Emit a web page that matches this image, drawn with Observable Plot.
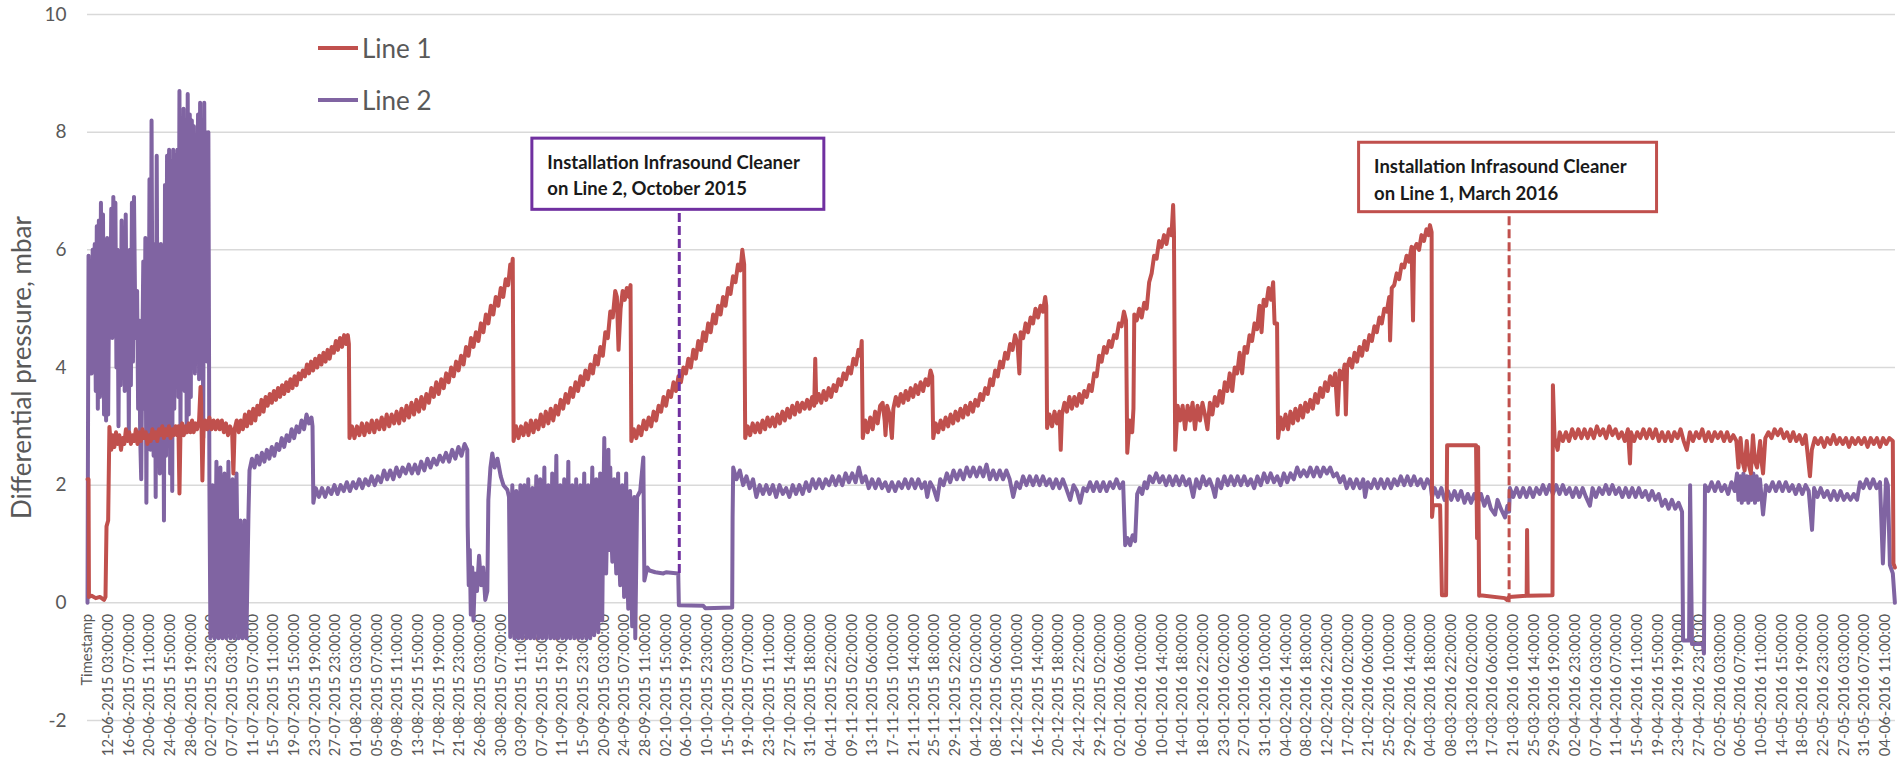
<!DOCTYPE html>
<html><head><meta charset="utf-8">
<script src="https://cdn.jsdelivr.net/npm/d3@7"></script>
<script src="https://cdn.jsdelivr.net/npm/@observablehq/plot@0.6"></script>
<style>
body{margin:0;background:#fff;font-family:Lato,"Open Sans",sans-serif;}
#wrap{position:relative;width:1902px;height:757px;overflow:hidden;background:#fff;}
.lg{position:absolute;left:318px;height:30px;display:flex;align-items:center;font-size:26px;color:#595959;font-family:Lato,sans-serif;}
.lg i{display:inline-block;width:40px;height:4px;margin-right:4px;}
</style>
</head><body><div id="wrap"></div>
<script>
// category axis labels, one every 100 hourly records
const labelEvery = 100;
const tickLabels = ["Timestamp","12-06-2015 03:00:00","16-06-2015 07:00:00","20-06-2015 11:00:00","24-06-2015 15:00:00","28-06-2015 19:00:00","02-07-2015 23:00:00","07-07-2015 03:00:00","11-07-2015 07:00:00","15-07-2015 11:00:00","19-07-2015 15:00:00","23-07-2015 19:00:00","27-07-2015 23:00:00","01-08-2015 03:00:00","05-08-2015 07:00:00","09-08-2015 11:00:00","13-08-2015 15:00:00","17-08-2015 19:00:00","21-08-2015 23:00:00","26-08-2015 03:00:00","30-08-2015 07:00:00","03-09-2015 11:00:00","07-09-2015 15:00:00","11-09-2015 19:00:00","15-09-2015 23:00:00","20-09-2015 03:00:00","24-09-2015 07:00:00","28-09-2015 11:00:00","02-10-2015 15:00:00","06-10-2015 19:00:00","10-10-2015 23:00:00","15-10-2015 03:00:00","19-10-2015 07:00:00","23-10-2015 11:00:00","27-10-2015 14:00:00","31-10-2015 18:00:00","04-11-2015 22:00:00","09-11-2015 02:00:00","13-11-2015 06:00:00","17-11-2015 10:00:00","21-11-2015 14:00:00","25-11-2015 18:00:00","29-11-2015 22:00:00","04-12-2015 02:00:00","08-12-2015 06:00:00","12-12-2015 10:00:00","16-12-2015 14:00:00","20-12-2015 18:00:00","24-12-2015 22:00:00","29-12-2015 02:00:00","02-01-2016 06:00:00","06-01-2016 10:00:00","10-01-2016 14:00:00","14-01-2016 18:00:00","18-01-2016 22:00:00","23-01-2016 02:00:00","27-01-2016 06:00:00","31-01-2016 10:00:00","04-02-2016 14:00:00","08-02-2016 18:00:00","12-02-2016 22:00:00","17-02-2016 02:00:00","21-02-2016 06:00:00","25-02-2016 10:00:00","29-02-2016 14:00:00","04-03-2016 18:00:00","08-03-2016 22:00:00","13-03-2016 02:00:00","17-03-2016 06:00:00","21-03-2016 10:00:00","25-03-2016 14:00:00","29-03-2016 19:00:00","02-04-2016 23:00:00","07-04-2016 03:00:00","11-04-2016 07:00:00","15-04-2016 11:00:00","19-04-2016 15:00:00","23-04-2016 19:00:00","27-04-2016 23:00:00","02-05-2016 03:00:00","06-05-2016 07:00:00","10-05-2016 11:00:00","14-05-2016 15:00:00","18-05-2016 19:00:00","22-05-2016 23:00:00","27-05-2016 03:00:00","31-05-2016 07:00:00","04-06-2016 11:00:00"];
const yTicks = [-2,0,2,4,6,8,10];
const seriesNames = ["Line 1","Line 2"];
const seriesColors = ["#C0504D","#8064A2"];

// Line 1: [record index (hour), differential pressure mbar]
const line1 = [[0,2.1],[5,2.1],[7,0.1],[20,0.12],[40,0.08],[60,0.1],[80,0.05],[87,0.1],[92,1.3],[100,1.4],
[106,2.99],[115,2.6],[122,2.85],[130,2.65],[138,2.9],[146,2.7],[154,2.85],[162,2.6],[170,2.8],[178,2.7],[186,2.95],[194,2.75],[202,2.9],[210,2.7],[218,2.85],[226,2.75],[234,2.95],[242,2.7],[250,2.9],[258,2.75],[266,2.95],[274,2.8],[282,2.9],[290,2.7],[298,2.85],[306,2.75],[314,2.95],[322,2.8],[330,2.9],[338,2.75],[346,2.95],[354,2.85],[362,3.0],[370,2.8],[378,2.95],[386,2.85],[394,3.0],[402,2.8],[410,2.95],[418,2.85],[426,3.0],[434,2.85],[440,3.0],[445,1.86],[450,2.9],[458,3.05],[466,2.85],[474,3.0],[482,2.9],[490,3.05],[498,2.9],[506,3.1],[514,2.9],[522,3.05],[530,2.95],[540,3.1],[547,3.67],[550,3.4],[556,2.08],[561,2.9],[570,3.1],[580,2.95],[590,3.15],[600,2.95],[610,3.1],[620,2.95],[630,3.1],[640,2.95],[650,3.1],[660,2.9],[670,3.05],[680,2.85],[690,3.0],[700,2.9],[706,2.2],[712,2.95],[722,3.1],[732,2.9],[742,3.1],[752,2.95],[762,3.2],[772,3.0],[782,3.25],[792,3.05],[802,3.3],[812,3.1],[822,3.35],[832,3.2],[842,3.45],[852,3.25],[862,3.5],[872,3.35],[882,3.55],[892,3.4],[902,3.6],[912,3.45],[922,3.65],[932,3.5],[942,3.7],[952,3.55],[962,3.75],[972,3.6],[982,3.8],[992,3.65],[1002,3.85],[1012,3.7],[1022,3.9],[1032,3.8],[1042,3.95],[1052,3.85],[1062,4.05],[1072,3.9],[1082,4.1],[1092,3.95],[1102,4.15],[1112,4.0],[1122,4.2],[1132,4.05],[1142,4.25],[1152,4.1],[1162,4.3],[1172,4.15],[1182,4.35],[1192,4.25],[1202,4.45],[1212,4.3],[1222,4.5],[1232,4.35],[1242,4.55],[1252,4.4],[1260,4.55],[1265,4.4],
[1268,2.8],[1280,3.0],[1292,2.8],[1304,3.0],[1316,2.85],[1328,3.05],[1340,2.85],[1352,3.05],[1364,2.9],[1376,3.1],[1388,2.9],[1400,3.1],[1412,2.95],[1424,3.15],[1436,2.95],[1448,3.2],[1460,3.0],[1472,3.2],[1484,3.05],[1496,3.25],[1508,3.05],[1520,3.3],[1532,3.1],[1544,3.35],[1556,3.15],[1568,3.4],[1580,3.2],[1592,3.45],[1604,3.25],[1616,3.5],[1628,3.3],[1640,3.55],[1652,3.4],[1664,3.65],[1676,3.5],[1688,3.75],[1700,3.55],[1712,3.8],[1724,3.65],[1736,3.9],[1748,3.75],[1760,4.0],[1772,3.85],[1784,4.1],[1796,3.95],[1808,4.2],[1820,4.05],[1832,4.35],[1844,4.2],[1856,4.5],[1868,4.35],[1880,4.6],[1892,4.45],[1904,4.75],[1916,4.6],[1928,4.9],[1940,4.75],[1952,5.05],[1964,4.9],[1976,5.2],[1988,5.05],[2000,5.35],[2012,5.2],[2024,5.5],[2036,5.4],[2046,5.75],[2052,5.6],[2058,5.85],
[2062,2.75],[2074,3.0],[2086,2.8],[2098,3.0],[2110,2.85],[2122,3.05],[2134,2.85],[2146,3.1],[2158,2.9],[2170,3.1],[2182,2.95],[2194,3.2],[2206,3.0],[2218,3.25],[2230,3.05],[2242,3.3],[2254,3.1],[2266,3.35],[2278,3.2],[2290,3.45],[2302,3.3],[2314,3.55],[2326,3.4],[2338,3.65],[2350,3.5],[2362,3.75],[2374,3.6],[2386,3.85],[2398,3.7],[2410,3.95],[2422,3.8],[2434,4.05],[2446,3.9],[2458,4.2],[2470,4.05],[2482,4.35],[2494,4.2],[2506,4.6],[2518,4.5],[2530,4.95],[2542,4.85],[2554,5.3],[2562,5.2],[2570,4.3],[2580,5.0],[2590,5.3],[2600,5.15],[2610,5.35],[2620,5.2],[2628,5.4],
[2632,2.75],[2644,2.95],[2656,2.8],[2668,3.0],[2680,2.85],[2692,3.1],[2704,2.95],[2716,3.15],[2728,3.0],[2740,3.25],[2752,3.1],[2764,3.35],[2776,3.25],[2788,3.5],[2800,3.35],[2812,3.6],[2824,3.5],[2836,3.75],[2848,3.6],[2860,3.85],[2872,3.75],[2884,4.0],[2896,3.9],[2908,4.15],[2920,4.0],[2932,4.3],[2944,4.15],[2956,4.45],[2968,4.3],[2980,4.6],[2992,4.45],[3004,4.75],[3016,4.6],[3028,4.9],[3040,4.75],[3052,5.05],[3064,4.9],[3076,5.2],[3088,5.05],[3100,5.35],[3112,5.25],[3124,5.55],[3136,5.45],[3148,5.75],[3160,5.65],[3169,6.0],[3178,5.75],
[3183,2.8],[3195,3.0],[3207,2.85],[3219,3.05],[3231,2.9],[3243,3.05],[3255,2.9],[3267,3.1],[3279,2.95],[3291,3.15],[3303,3.0],[3315,3.15],[3327,3.0],[3339,3.2],[3351,3.05],[3363,3.25],[3375,3.1],[3387,3.3],[3399,3.15],[3411,3.35],[3423,3.2],[3435,3.4],[3447,3.25],[3459,3.4],[3471,3.3],[3483,3.45],[3495,3.3],[3507,3.5],[3517,3.35],[3522,4.15],[3527,3.4],[3539,3.55],[3551,3.4],[3563,3.6],[3575,3.45],[3587,3.65],[3599,3.5],[3611,3.7],[3623,3.6],[3635,3.8],[3647,3.7],[3659,3.9],[3671,3.8],[3683,4.0],[3695,3.9],[3707,4.15],[3719,4.05],[3731,4.3],[3741,4.2],[3747,4.45],
[3752,2.8],[3764,3.1],[3776,2.9],[3788,3.15],[3800,2.95],[3812,3.25],[3824,3.05],[3836,3.35],[3848,3.4],[3858,3.1],[3862,2.85],[3870,3.35],[3882,3.2],[3893,2.8],[3900,3.3],[3912,3.5],[3924,3.35],[3936,3.55],[3948,3.4],[3960,3.6],[3972,3.45],[3984,3.65],[3996,3.5],[4008,3.7],[4020,3.55],[4032,3.75],[4044,3.6],[4056,3.8],[4068,3.7],[4080,3.95],[4088,3.85],
[4093,2.8],[4105,3.05],[4117,2.9],[4129,3.1],[4141,2.95],[4153,3.15],[4165,3.0],[4177,3.2],[4189,3.05],[4201,3.25],[4213,3.1],[4225,3.3],[4237,3.15],[4249,3.35],[4261,3.2],[4273,3.4],[4285,3.25],[4297,3.45],[4309,3.35],[4321,3.55],[4333,3.45],[4345,3.65],[4357,3.55],[4369,3.8],[4381,3.7],[4393,3.95],[4405,3.85],[4417,4.1],[4429,4.0],[4441,4.25],[4453,4.15],[4465,4.4],[4477,4.3],[4489,4.55],[4501,4.4],[4510,3.9],[4516,4.6],[4528,4.5],[4540,4.75],[4552,4.6],[4564,4.85],[4576,4.75],[4588,5.0],[4600,4.85],[4612,5.05],[4624,4.95],[4635,5.2],[4640,5.05],
[4644,2.97],[4656,3.2],[4668,3.0],[4680,3.25],[4692,3.05],[4704,3.25],[4710,2.6],[4716,3.2],[4728,3.4],[4740,3.25],[4752,3.5],[4764,3.3],[4776,3.5],[4788,3.35],[4800,3.55],[4812,3.4],[4824,3.6],[4836,3.5],[4848,3.7],[4860,3.6],[4872,3.9],[4884,3.85],[4896,4.2],[4908,4.1],[4920,4.35],[4932,4.25],[4944,4.45],[4956,4.35],[4968,4.55],[4980,4.5],[4992,4.75],[5004,4.7],[5016,4.95],[5026,4.8],
[5032,2.55],[5044,3.1],[5056,2.9],[5062,3.3],[5066,4.9],[5078,4.8],[5090,5.0],[5102,4.85],[5114,5.1],[5126,5.0],[5138,5.45],[5150,5.6],[5162,5.9],[5174,5.85],[5186,6.15],[5198,6.05],[5210,6.25],[5222,6.1],[5234,6.35],[5246,6.25],[5254,6.76],[5258,6.3],
[5264,2.6],[5276,3.35],[5288,3.1],[5300,3.35],[5312,2.95],[5324,3.35],[5336,3.1],[5348,3.4],[5360,2.95],[5372,3.35],[5384,3.1],[5396,3.4],[5408,3.2],[5420,2.95],[5432,3.4],[5444,3.2],[5456,3.5],[5468,3.35],[5480,3.6],[5492,3.4],[5504,3.75],[5516,3.6],[5528,3.9],[5540,3.6],[5552,4.0],[5564,3.9],[5576,4.25],[5588,3.9],[5600,4.35],[5612,4.25],[5624,4.55],[5636,4.45],[5648,4.75],[5660,4.65],[5672,5.05],[5682,4.6],[5692,5.15],[5704,5.05],[5716,5.35],[5728,5.15],[5738,5.45],[5745,4.75],[5757,4.75],
[5762,2.8],[5774,3.15],[5786,2.95],[5798,3.2],[5810,2.95],[5822,3.25],[5834,3.05],[5846,3.3],[5858,3.1],[5870,3.35],[5882,3.15],[5894,3.4],[5906,3.25],[5918,3.45],[5930,3.3],[5942,3.55],[5954,3.4],[5966,3.65],[5978,3.5],[5990,3.75],[6002,3.6],[6014,3.85],[6026,3.7],[6038,3.9],[6050,3.2],[6060,3.95],[6072,3.8],[6084,4.05],[6090,3.2],[6096,4.0],[6108,4.15],[6120,4.0],[6132,4.25],[6144,4.1],[6156,4.35],[6168,4.2],[6180,4.45],[6192,4.3],[6204,4.55],[6216,4.45],[6228,4.7],[6240,4.6],[6252,4.85],[6264,4.75],[6276,5.0],[6288,4.95],[6300,5.2],[6304,4.46],[6312,5.35],[6324,5.4],[6336,5.6],[6348,5.5],[6360,5.75],[6372,5.7],[6384,5.9],[6396,5.8],[6408,6.05],[6415,4.8],[6420,6.0],[6432,6.1],[6444,6.0],[6456,6.25],[6468,6.15],[6480,6.35],[6490,6.25],[6497,6.42],[6505,6.3],
[6507,1.46],[6512,1.66],[6546,1.66],[6555,0.13],[6575,0.13],[6580,2.68],[6720,2.68],[6725,1.1],[6730,2.65],[6735,0.12],[6740,0.13],[6860,0.08],[6870,0.05],[6880,0.1],[6965,0.12],[6967,1.24],[6970,0.12],[7090,0.13],[7092,3.7],
[7100,2.8],[7115,2.6],[7125,2.9],[7140,2.75],[7155,2.9],[7170,2.75],[7185,2.95],[7200,2.8],[7215,2.95],[7230,2.8],[7245,2.95],[7260,2.8],[7275,2.95],[7290,2.8],[7305,3.0],[7320,2.85],[7335,2.95],[7350,2.8],[7365,3.0],[7380,2.85],[7395,2.95],[7410,2.8],[7425,2.9],[7440,2.75],[7455,2.95],[7465,2.37],[7470,2.9],[7485,2.75],[7500,2.9],[7515,2.8],[7530,2.95],[7545,2.8],[7560,2.95],[7575,2.8],[7590,2.95],[7605,2.75],[7620,2.9],[7635,2.75],[7650,2.9],[7665,2.75],[7680,2.9],[7695,2.8],[7710,2.95],[7725,2.75],[7740,2.6],[7755,2.9],[7770,2.75],[7785,2.9],[7800,2.8],[7815,2.95],[7830,2.75],[7845,2.9],[7860,2.75],[7875,2.9],[7890,2.8],[7905,2.9],[7920,2.75],[7935,2.9],[7950,2.75],[7965,2.85],[7980,2.75],[7990,2.3],[8000,2.8],[8010,2.4],[8020,2.25],[8030,2.75],[8040,2.35],[8050,2.2],[8060,2.85],[8070,2.4],[8080,2.3],[8095,2.75],[8102,2.4],[8109,2.2],[8120,2.8],[8135,2.9],[8150,2.8],[8165,2.95],[8180,2.85],[8195,2.95],[8210,2.8],[8225,2.9],[8240,2.75],[8255,2.9],[8270,2.75],[8285,2.85],[8300,2.7],[8315,2.85],[8336,2.15],[8345,2.6],[8360,2.8],[8375,2.7],[8390,2.8],[8405,2.65],[8420,2.8],[8435,2.7],[8450,2.85],[8465,2.7],[8480,2.8],[8495,2.7],[8510,2.8],[8525,2.65],[8540,2.8],[8555,2.7],[8570,2.8],[8585,2.7],[8600,2.8],[8615,2.65],[8630,2.8],[8645,2.7],[8660,2.8],[8675,2.65],[8690,2.8],[8705,2.7],[8720,2.8],[8737,2.75],[8740,0.67],[8747,0.6]];

// Line 2: [record index (hour), differential pressure mbar]
const line2 = [[0,0.0],[5,5.9],[10,4.0],[15,5.8],[20,3.9],[25,6.0],[30,4.3],[35,6.1],[40,3.6],[45,6.4],[50,3.3],[55,6.5],[60,3.5],[65,6.8],[70,4.2],[75,6.6],[80,3.2],[85,5.9],[90,3.1],[95,6.2],[100,3.2],[105,5.6],[110,4.6],[115,6.7],[120,4.5],[125,6.9],[130,4.6],[135,6.8],[140,4.0],[145,6.0],[150,3.0],[155,5.7],[160,3.7],[165,6.5],[170,4.3],[175,6.2],[180,3.6],[185,6.6],[190,4.2],[195,5.9],[200,2.9],[205,6.0],[210,3.7],[215,6.8],[220,4.1],[225,6.9],[230,5.2],[235,4.5],[240,5.3],[245,3.3],[250,4.8],[255,2.8],[260,2.1],[265,4.2],[270,5.8],[275,3.3],[280,6.2],[285,1.7],[290,5.4],[295,3.4],[300,7.2],[305,2.6],[310,8.2],[315,4.0],[320,2.5],[325,6.1],[330,1.8],[335,7.6],[340,3.1],[345,5.0],[350,2.2],[355,6.1],[360,2.6],[365,5.5],[370,1.4],[375,7.1],[380,2.5],[385,7.6],[390,4.5],[395,7.7],[400,2.2],[405,7.5],[410,1.9],[415,7.7],[420,3.3],[425,7.6],[430,4.2],[435,7.7],[440,3.5],[445,8.7],[450,2.9],[455,7.6],[460,4.1],[465,8.4],[470,3.6],[475,8.2],[480,2.9],[485,8.65],[490,3.2],[495,8.3],[500,3.5],[505,8.2],[510,4.5],[515,8.1],[520,3.9],[525,7.9],[530,4.3],[535,8.3],[540,3.8],[545,8.5],[550,4.2],[555,8.0],[560,2.8],[565,8.5],[570,4.3],[575,8.0],[580,4.1],[585,8.0],[590,2.0],[595,-0.6],
[605,2.0],[615,-0.6],[624,2.4],[634,-0.6],[643,2.3],[653,-0.6],[663,2.2],[672,-0.6],[682,2.4],[692,-0.6],[702,2.1],[711,-0.6],[721,2.2],[731,-0.6],[740,1.4],[750,-0.6],[760,1.4],[769,-0.6],[779,1.5],
[784,2.25],[796,2.45],[808,2.3],[820,2.5],[832,2.35],[844,2.55],[856,2.4],[868,2.6],[880,2.45],[892,2.65],[904,2.5],[916,2.7],[928,2.6],[940,2.8],[952,2.65],[964,2.85],[976,2.75],[988,2.95],[1000,2.8],[1012,3.0],[1024,2.9],[1036,3.1],[1048,2.95],[1060,3.2],[1072,3.05],[1084,3.15],[1089,3.0],
[1093,1.7],[1105,1.95],[1120,1.8],[1135,1.95],[1150,1.8],[1165,1.95],[1180,1.85],[1195,2.0],[1210,1.85],[1225,2.0],[1240,1.9],[1255,2.05],[1270,1.9],[1285,2.05],[1300,1.95],[1315,2.1],[1330,1.95],[1345,2.1],[1360,2.0],[1375,2.15],[1390,2.0],[1405,2.15],[1420,2.05],[1435,2.25],[1450,2.1],[1465,2.25],[1480,2.1],[1495,2.3],[1510,2.15],[1525,2.3],[1540,2.2],[1555,2.35],[1570,2.2],[1585,2.35],[1600,2.2],[1615,2.4],[1630,2.25],[1645,2.45],[1660,2.3],[1675,2.45],[1690,2.35],[1705,2.5],[1720,2.4],[1735,2.55],[1750,2.4],[1765,2.6],[1780,2.45],[1795,2.65],[1810,2.5],[1825,2.7],[1838,2.6],
[1840,1.3],[1845,0.3],[1850,0.9],[1855,-0.2],[1862,0.6],[1868,-0.3],[1875,0.5],[1885,0.2],[1895,0.8],[1905,0.3],[1915,0.6],[1925,0.05],[1935,0.2],[1940,1.75],[1950,2.3],[1959,2.54],[1970,2.3],[1984,2.45],[2000,2.15],[2013,2.0],[2032,1.92],[2040,1.8],[2046,-0.58],
[2051,1.2],[2056,2.0],[2061,0.4],[2066,-0.6],[2071,0.8],[2075,1.9],[2080,0.5],[2085,-0.6],[2090,1.0],[2095,2.0],[2100,0.3],[2104,-0.6],[2109,1.1],[2114,2.0],[2119,0.6],[2124,-0.6],[2129,0.9],[2133,2.1],[2138,0.4],[2143,-0.6],[2148,1.0],[2153,1.95],[2158,0.2],[2162,-0.6],[2167,1.2],[2172,2.15],[2177,0.5],[2182,-0.6],[2187,0.9],[2191,2.1],[2196,0.3],[2201,-0.6],[2206,1.3],[2211,2.3],[2216,0.4],[2220,-0.6],[2225,0.8],[2230,2.0],[2235,0.6],[2240,-0.6],[2245,1.1],[2249,2.2],[2254,0.2],[2259,-0.6],[2264,1.4],[2269,2.5],[2274,0.5],[2278,-0.6],[2283,0.9],[2288,2.0],[2293,0.3],[2298,-0.6],[2302,1.0],[2307,2.1],[2312,0.6],[2317,-0.6],[2322,1.2],[2327,2.4],[2332,0.4],[2336,-0.6],[2341,0.8],[2346,2.0],[2351,0.5],[2356,-0.6],[2361,1.1],[2365,2.1],[2370,0.3],[2375,-0.6],[2380,0.9],[2385,2.0],[2390,0.4],[2394,-0.6],[2399,1.2],[2404,2.2],[2409,0.5],[2414,-0.6],[2419,0.8],[2423,2.0],[2428,0.3],[2433,-0.6],[2438,1.3],[2443,2.3],[2448,0.6],[2452,-0.55],[2457,1.0],[2462,2.1],[2467,0.4],[2472,-0.5],[2477,1.2],[2481,2.2],[2486,0.6],[2491,-0.3],[2496,1.5],[2501,2.8],[2506,1.2],[2510,0.5],[2516,1.6],[2521,2.6],
[2525,0.9],[2530,2.3],[2535,1.2],[2540,0.7],[2545,1.5],[2549,2.1],[2554,1.0],[2559,0.5],[2564,1.4],[2568,2.2],[2573,0.8],[2578,0.3],[2583,1.2],[2588,2.0],[2593,0.9],[2597,0.1],[2602,1.1],[2607,2.2],[2612,0.6],[2617,-0.1],[2622,1.0],[2626,1.9],[2631,0.5],[2636,-0.4],[2641,0.9],[2646,1.8],[2651,-0.6],[2660,1.8],[2675,1.9],[2690,2.47],[2695,0.38],[2709,0.6],[2720,0.55],[2748,0.52],[2787,0.5],[2800,0.52],[2859,0.5],[2862,-0.04],[2980,-0.05],[2990,-0.09],[3120,-0.08],[3122,1.46],
[3125,2.3],[3141,2.1],[3157,2.25],[3173,2.0],[3189,2.15],[3205,1.95],[3221,2.1],[3237,1.8],[3253,2.0],[3269,1.85],[3285,2.0],[3301,1.85],[3317,2.0],[3333,1.8],[3349,2.0],[3365,1.85],[3381,1.95],[3397,1.8],[3413,2.0],[3429,1.85],[3445,2.0],[3461,1.85],[3477,2.05],[3493,1.9],[3509,2.1],[3525,1.95],[3541,2.1],[3557,1.95],[3573,2.1],[3589,2.0],[3605,2.15],[3621,2.0],[3637,2.15],[3653,2.0],[3669,2.2],[3685,2.05],[3701,2.2],[3717,2.05],[3733,2.3],[3749,2.05],[3765,2.15],[3781,1.95],[3797,2.1],[3813,1.95],[3829,2.1],[3845,1.95],[3861,2.05],[3877,1.9],[3893,2.05],[3909,1.9],[3925,2.05],[3941,1.95],[3957,2.1],[3973,1.95],[3989,2.1],[4005,1.95],[4021,2.1],[4037,1.95],[4053,2.05],[4064,1.8],[4078,2.05],[4094,1.95],[4112,1.75],[4127,2.1],[4143,2.0],[4159,2.2],[4175,2.05],[4191,2.25],[4207,2.1],[4223,2.25],[4239,2.1],[4255,2.3],[4271,2.15],[4287,2.3],[4303,2.15],[4319,2.3],[4335,2.15],[4351,2.35],[4367,2.1],[4383,2.25],[4399,2.1],[4415,2.25],[4431,2.1],[4447,2.25],[4463,2.1],[4480,1.8],[4496,2.05],[4512,1.95],[4528,2.15],[4544,2.0],[4560,2.15],[4576,2.0],[4592,2.15],[4608,2.0],[4624,2.15],[4640,2.0],[4656,2.1],[4672,1.95],[4688,2.1],[4704,1.95],[4720,2.1],[4736,1.95],[4756,1.75],[4772,2.0],[4788,1.9],[4804,1.7],[4820,1.95],[4836,1.9],[4852,2.05],[4868,1.9],[4884,2.05],[4900,1.9],[4916,2.05],[4932,1.9],[4948,2.05],[4964,1.95],[4980,2.1],[4996,1.95],[5012,2.05],
[5022,0.98],[5034,1.1],[5046,0.98],[5058,1.15],[5070,1.05],[5080,1.85],[5092,1.95],[5104,1.85],[5116,2.05],[5128,1.95],[5140,2.15],[5156,2.05],[5172,2.2],[5188,2.05],[5204,2.15],[5220,2.0],[5236,2.15],[5252,2.0],[5268,2.15],[5284,2.0],[5300,2.15],[5316,2.0],[5332,2.1],[5351,1.8],[5366,2.1],[5382,1.95],[5398,2.15],[5414,2.0],[5430,2.1],[5446,1.95],[5457,1.8],[5470,2.1],[5486,1.95],[5502,2.15],[5518,2.0],[5534,2.15],[5550,2.0],[5566,2.15],[5582,2.0],[5598,2.15],[5614,2.0],[5630,2.1],[5646,1.95],[5662,2.15],[5678,2.0],[5694,2.2],[5710,2.05],[5726,2.2],[5742,2.05],[5758,2.15],[5774,2.0],[5790,2.2],[5806,2.05],[5822,2.2],[5838,2.1],[5854,2.3],[5870,2.15],[5886,2.25],[5902,2.15],[5918,2.3],[5934,2.15],[5950,2.3],[5966,2.15],[5982,2.3],[5998,2.2],[6014,2.3],[6030,2.15],[6046,2.2],[6062,2.05],[6078,2.15],[6094,1.95],[6110,2.1],[6126,1.95],[6142,2.1],[6158,1.95],[6174,2.1],[6183,1.8],[6196,2.05],[6212,1.95],[6228,2.1],[6244,1.95],[6260,2.1],[6276,1.95],[6292,2.1],[6308,1.95],[6324,2.1],[6340,2.0],[6356,2.15],[6372,2.0],[6388,2.15],[6404,2.0],[6420,2.15],[6436,2.0],[6452,2.1],[6468,1.95],[6484,2.1],[6500,2.0],
[6507,1.8],[6520,1.95],[6536,1.8],[6552,1.95],[6568,1.75],[6584,1.9],[6600,1.75],[6616,1.9],[6632,1.75],[6648,1.9],[6664,1.7],[6680,1.85],[6696,1.7],[6712,1.85],[6728,1.7],[6744,1.85],[6760,1.65],[6776,1.8],[6792,1.6],[6812,1.5],[6824,1.75],[6840,1.6],[6860,1.45],[6872,1.65],[6880,1.55],
[6884,1.95],[6900,1.8],[6916,1.95],[6932,1.8],[6948,1.95],[6964,1.8],[6980,1.95],[6996,1.8],[7012,1.95],[7028,1.85],[7044,2.0],[7060,1.85],[7076,2.0],[7092,1.85],[7108,2.0],[7124,1.85],[7140,2.0],[7156,1.85],[7172,1.95],[7188,1.8],[7204,1.95],[7220,1.8],[7236,1.95],[7252,1.8],[7271,1.65],[7284,1.95],[7300,1.8],[7316,1.95],[7332,1.85],[7348,2.0],[7364,1.85],[7380,2.0],[7396,1.85],[7412,1.95],[7428,1.8],[7444,1.95],[7460,1.8],[7476,1.95],[7492,1.8],[7508,1.95],[7524,1.8],[7540,1.9],[7556,1.75],[7572,1.9],[7588,1.75],[7604,1.85],[7620,1.65],[7636,1.75],[7652,1.6],[7668,1.75],[7684,1.6],[7700,1.7],[7717,1.55],
[7722,-0.64],[7751,-0.64],[7756,2.0],[7765,-0.7],[7818,-0.7],[7823,-0.86],
[7828,2.0],[7844,1.9],[7860,2.05],[7876,1.9],[7892,2.05],[7908,1.9],[7924,2.0],[7940,1.85],[7956,2.05],[7972,1.9],[7983,2.2],[7990,1.75],[7998,2.15],[8006,1.7],[8014,2.2],[8022,1.75],[8030,2.15],[8038,1.7],[8046,2.15],[8054,1.75],[8062,2.2],[8070,1.7],[8078,2.15],[8086,1.75],[8094,2.1],[8109,1.5],[8123,2.0],[8139,1.9],[8155,2.05],[8171,1.9],[8187,2.05],[8203,1.9],[8219,2.05],[8235,1.9],[8251,2.0],[8267,1.85],[8283,2.0],[8299,1.85],[8315,2.0],[8330,1.9],[8346,1.24],[8356,1.95],[8372,1.8],[8388,1.95],[8404,1.8],[8420,1.9],[8436,1.75],[8452,1.9],[8468,1.75],[8484,1.9],[8500,1.75],[8516,1.85],[8532,1.75],[8548,1.85],[8564,1.75],[8578,2.05],[8594,1.95],[8610,2.1],[8626,1.95],[8642,2.1],[8658,1.95],[8675,2.05],[8689,0.67],[8704,2.1],[8713,2.0],[8723,0.64],[8737,0.5],[8747,0.0]];

// installation annotations
const notes = [
  {text: "Installation Infrasound Cleaner\non Line 2, October 2015", color: "#7030A0", x1: 2153, x2: 3566, y1: 6.68, y2: 7.89, at: 2864, lineFrom: 0.5},
  {text: "Installation Infrasound Cleaner\non Line 1, March 2016", color: "#C0504D", x1: 6154, x2: 7596, y1: 6.64, y2: 7.82, at: 6880, lineFrom: 0}
];

const ticks = tickLabels.map((label, i) => ({hour: i * labelEvery, label}));
const font = "Lato, 'Open Sans', sans-serif";

const chart = Plot.plot({
  width: 1902, height: 757,
  marginLeft: 87, marginRight: 7, marginTop: 14, marginBottom: 37,
  x: {domain: [0, 8750], axis: null},
  y: {domain: [-2, 10], axis: null},
  style: {fontFamily: font, background: "white", overflow: "visible"},
  marks: [
    Plot.ruleY(yTicks, {stroke: "#d9d9d9", strokeWidth: 1.5}),
    Plot.text(yTicks, {y: d => d, frameAnchor: "left", dx: -21, textAnchor: "end", text: d => String(d), fontSize: 19, fill: "#595959"}),
    Plot.text(ticks, {x: "hour", y: 0, text: "label", rotate: -90, textAnchor: "end", dy: 11, fontSize: 14.8, fill: "#595959"}),
    Plot.text(["Differential pressure, mbar"], {frameAnchor: "left", dx: -65, rotate: -90, textAnchor: "middle", text: d => d, fontSize: 26, fill: "#595959"}),
    Plot.line(line2, {x: d => d[0], y: d => d[1], stroke: seriesColors[1], strokeWidth: 4}),
    Plot.line(line1, {x: d => d[0], y: d => d[1], stroke: seriesColors[0], strokeWidth: 4}),
    Plot.ruleX(notes, {x: "at", y1: "lineFrom", y2: "y1", stroke: "color", strokeWidth: 3, strokeDasharray: "9,4"}),
    Plot.rect(notes, {x1: "x1", x2: "x2", y1: "y1", y2: "y2", fill: "white", stroke: "color", strokeWidth: 3}),
    Plot.text(notes, {x: "x1", y: "y2", text: "text", dx: 15, dy: 11, textAnchor: "start", lineAnchor: "top", lineHeight: 1.45, fontSize: 18.5, fontWeight: "bold", fill: "#1a1a1a"})
  ]
});

const wrap = document.getElementById("wrap");
wrap.appendChild(chart);
seriesNames.forEach((name, i) => {
  const d = document.createElement("div");
  d.className = "lg";
  d.style.top = (33 + i * 52) + "px";
  d.innerHTML = `<i style="background:${seriesColors[i]}"></i>${name}`;
  wrap.appendChild(d);
});
</script>
</body></html>
